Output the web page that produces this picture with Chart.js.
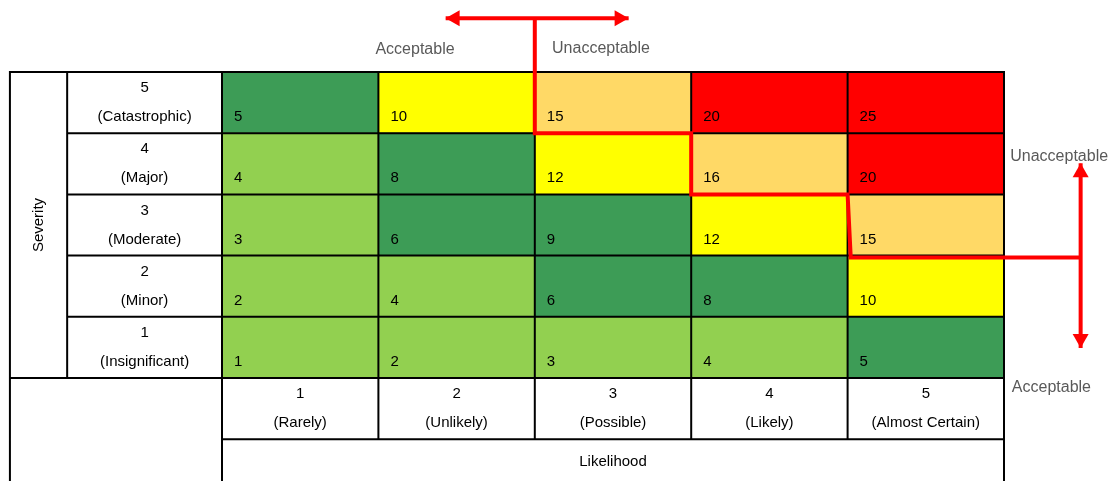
<!DOCTYPE html>
<html>
<head>
<meta charset="utf-8">
<script src="https://cdn.jsdelivr.net/npm/chart.js@4.4.1/dist/chart.umd.min.js"></script>
<style>
html, body { margin: 0; padding: 0; background: #fff; }
#wrap { width: 1117px; height: 481px; }
</style>
</head>
<body>
<div id="wrap"><canvas id="riskChart" width="1117" height="481"></canvas></div>
<script>
// likelihood (columns) and severity (rows)
var likelihoodNums = ['1', '2', '3', '4', '5'];
var likelihoodNames = ['(Rarely)', '(Unlikely)', '(Possible)', '(Likely)', '(Almost Certain)'];
var severityNums = ['1', '2', '3', '4', '5'];
var severityNames = ['(Insignificant)', '(Minor)', '(Moderate)', '(Major)', '(Catastrophic)'];

// score of each cell, rows = severity 1..5, cols = likelihood 1..5
var scores = [
    [1, 2, 3, 4, 5],
    [2, 4, 6, 8, 10],
    [3, 6, 9, 12, 15],
    [4, 8, 12, 16, 20],
    [5, 10, 15, 20, 25]
];
// risk band of each cell (1 = low ... 5 = extreme)
var bands = [
    [1, 1, 1, 1, 2],
    [1, 1, 2, 2, 3],
    [1, 2, 2, 3, 4],
    [1, 2, 3, 4, 5],
    [2, 3, 4, 5, 5]
];

// acceptable / unacceptable boundary, in likelihood / severity units
var boundaryX = [2, 2, 3, 3, 4, 4.02, 5.49];
var boundaryY = [5.88, 4, 4, 3, 3, 1.97, 1.97];
var arrowTopX = [1.43, 2.6];
var arrowTopY = [5.88, 5.88];
var arrowSideX = [5.49, 5.49];
var arrowSideY = [3.51, 0.49];

var bandColors = { 1: '#92d050', 2: '#3d9c56', 3: '#ffff00', 4: '#ffd966', 5: '#ff0000' };
var FONT = '15px "Liberation Sans", Arial, sans-serif';
var NOTE_FONT = '16px "Liberation Sans", Arial, sans-serif';

// zone notes: text, x, y (same units as the boundary), alignment
var notes = [
    ['Acceptable', 1.234, 5.36, 'center'],
    ['Unacceptable', 2.423, 5.39, 'center'],
    ['Unacceptable', 5.04, 3.61, 'left'],
    ['Acceptable', 5.05, -0.16, 'left']
];

var datasets = [];
severityNums.forEach(function (s, si) {
    datasets.push({
        type: 'bar',
        label: 'Severity ' + s,
        data: likelihoodNums.map(function () { return [si, si + 1]; }),
        backgroundColor: bands[si].map(function (b) { return bandColors[b]; }),
        borderWidth: 0,
        barPercentage: 1,
        categoryPercentage: 1,
        grouped: false,
        xAxisID: 'x',
        yAxisID: 'y',
        order: 2
    });
});

function lineSet(label, xs, ys) {
    return {
        type: 'line',
        label: label,
        data: xs.map(function (x, i) { return { x: x, y: ys[i] }; }),
        xAxisID: 'xv',
        yAxisID: 'y',
        borderColor: '#ff0000',
        borderWidth: 4,
        borderJoinStyle: 'miter',
        pointRadius: 0,
        fill: false,
        tension: 0,
        clip: false,
        order: 0
    };
}
datasets.push(lineSet('boundary', boundaryX, boundaryY));
datasets.push(lineSet('arrowTop', arrowTopX, arrowTopY));
datasets.push(lineSet('arrowSide', arrowSideX, arrowSideY));

var barsDrawn = 0;

function drawFrame(chart) {
    var ctx = chart.ctx;
    var xs = chart.scales.xv, ys = chart.scales.y;
    var px = function (u) { return xs.getPixelForValue(u); };
    var py = function (v) { return ys.getPixelForValue(v); };
    var outer = -1.356, inner = -0.99;

    ctx.save();
    ctx.strokeStyle = '#000';
    ctx.lineWidth = 2;
    ctx.beginPath();
    // verticals
    [[outer, 5, -2], [inner, 5, 0], [0, 5, -2], [1, 5, -1], [2, 5, -1], [3, 5, -1], [4, 5, -1], [5, 5, -2]].forEach(function (l) {
        ctx.moveTo(px(l[0]), py(l[1]) - 1);
        ctx.lineTo(px(l[0]), py(l[2]));
    });
    // horizontals
    [[5, outer, 5], [4, inner, 5], [3, inner, 5], [2, inner, 5], [1, inner, 5], [0, outer, 5], [-1, 0, 5]].forEach(function (l) {
        ctx.moveTo(px(l[1]) - 1, py(l[0]));
        ctx.lineTo(px(l[2]) + 1, py(l[0]));
    });
    ctx.stroke();

    ctx.fillStyle = '#000';
    ctx.font = FONT;
    ctx.textBaseline = 'middle';

    // cell scores, bottom left of each bar
    severityNums.forEach(function (s, si) {
        var meta = chart.getDatasetMeta(si);
        meta.data.forEach(function (bar, li) {
            ctx.textAlign = 'left';
            ctx.fillText(String(scores[si][li]), bar.x - bar.width / 2 + 12, bar.y + 45);
        });
    });

    // severity labels
    ctx.textAlign = 'center';
    severityNums.forEach(function (s, si) {
        var cy = py(si + 0.5);
        ctx.fillText(s, px(inner / 2), cy - 14.5);
        ctx.fillText(severityNames[si], px(inner / 2), cy + 14.5);
    });
    // likelihood labels
    likelihoodNums.forEach(function (l, li) {
        var cy = py(-0.5);
        ctx.fillText(l, px(li + 0.5), cy - 14.5);
        ctx.fillText(likelihoodNames[li], px(li + 0.5), cy + 14.5);
    });
    ctx.fillText('Likelihood', px(2.5), py(-1) + 23);

    ctx.save();
    ctx.translate(px((outer + inner) / 2), py(2.5));
    ctx.rotate(-Math.PI / 2);
    ctx.fillText('Severity', 0, 0);
    ctx.restore();
    ctx.restore();
}

function arrowHead(ctx, tip, from) {
    var ang = Math.atan2(tip.y - from.y, tip.x - from.x);
    var len = 14, half = 8;
    ctx.beginPath();
    ctx.moveTo(tip.x, tip.y);
    ctx.lineTo(tip.x - len * Math.cos(ang) + half * Math.sin(ang), tip.y - len * Math.sin(ang) - half * Math.cos(ang));
    ctx.lineTo(tip.x - len * Math.cos(ang) - half * Math.sin(ang), tip.y - len * Math.sin(ang) + half * Math.cos(ang));
    ctx.closePath();
    ctx.fill();
}

var matrixFrame = {
    id: 'matrixFrame',
    beforeDatasetsDraw: function () { barsDrawn = 0; },
    afterDatasetDraw: function (chart, args) {
        if (args.meta.type !== 'bar') return;
        barsDrawn++;
        if (barsDrawn === severityNums.length) drawFrame(chart);
    },
    afterDatasetsDraw: function (chart) {
        var ctx = chart.ctx;
        ctx.save();
        ctx.fillStyle = '#ff0000';
        chart.data.datasets.forEach(function (ds, i) {
            if (ds.label.indexOf('arrow') !== 0) return;
            var pts = chart.getDatasetMeta(i).data;
            arrowHead(ctx, pts[0], pts[1]);
            arrowHead(ctx, pts[pts.length - 1], pts[pts.length - 2]);
        });

        var xs = chart.scales.xv, ys = chart.scales.y;
        ctx.fillStyle = '#595959';
        ctx.font = NOTE_FONT;
        ctx.textBaseline = 'middle';
        notes.forEach(function (n) {
            ctx.textAlign = n[3];
            ctx.fillText(n[0], xs.getPixelForValue(n[1]), ys.getPixelForValue(n[2]));
        });
        ctx.restore();
    }
};

new Chart(document.getElementById('riskChart'), {
    type: 'bar',
    data: { labels: likelihoodNames, datasets: datasets },
    options: {
        responsive: false,
        animation: false,
        layout: { padding: { left: 222, right: 113, top: 72, bottom: 103 }, autoPadding: false },
        scales: {
            x: { type: 'category', display: false, stacked: true },
            xv: { type: 'linear', min: 0, max: 5, display: false, offset: false },
            y: { type: 'linear', min: 0, max: 5, display: false }
        },
        plugins: {
            legend: { display: false },
            tooltip: { enabled: false }
        }
    },
    plugins: [matrixFrame]
});
</script>
</body>
</html>
